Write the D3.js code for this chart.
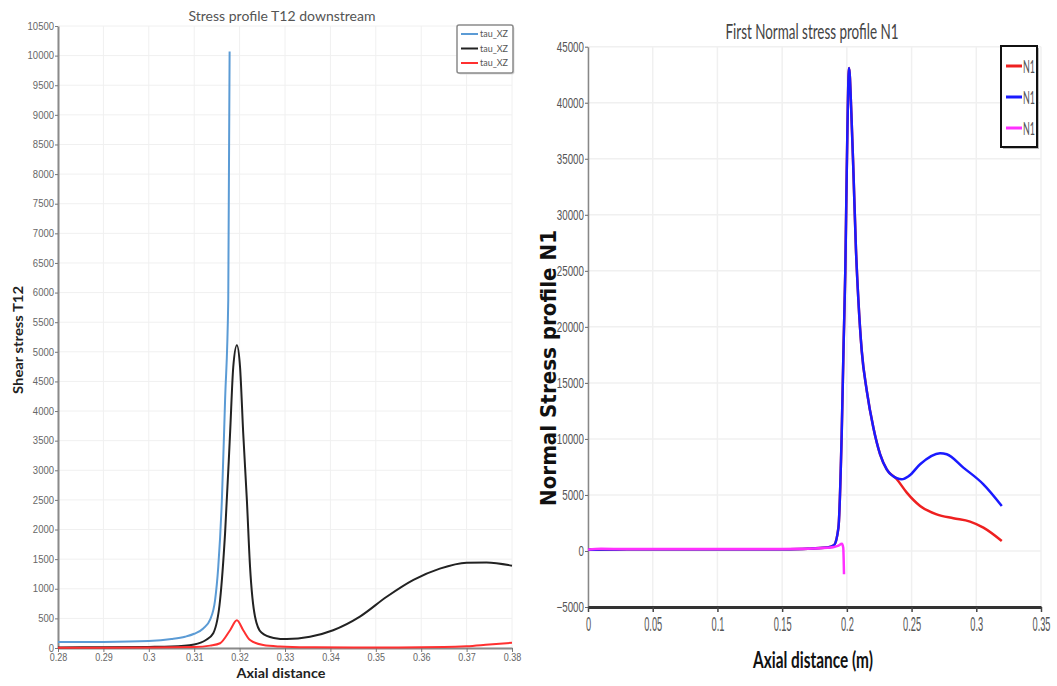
<!DOCTYPE html>
<html>
<head>
<meta charset="utf-8">
<script src="https://cdn.jsdelivr.net/npm/d3@7"></script>
<style>
  html, body { margin: 0; padding: 0; background: #fff; }
  svg { display: block; font-family: Lato, "Open Sans", sans-serif; }
</style>
</head>
<body>
<svg id="chart" width="1057" height="686"></svg>
<script>
// Left chart: shear stress T12 downstream
const t12Ticks = [0, 500, 1000, 1500, 2000, 2500, 3000, 3500, 4000, 4500, 5000, 5500, 6000, 6500, 7000, 7500, 8000, 8500, 9000, 9500, 10000, 10500];
const t12AxialTicks = [0.28, 0.29, 0.30, 0.31, 0.32, 0.33, 0.34, 0.35, 0.36, 0.37, 0.38];

const tauBlueX = [0.28, 0.29, 0.30, 0.305, 0.308, 0.31, 0.312, 0.3135, 0.3146, 0.3153, 0.3161, 0.3168, 0.3175, 0.3178];
const tauBlueY = [100, 103, 118, 150, 190, 240, 330, 480, 810, 1370, 2500, 4180, 5870, 10070];

const tauBlackX = [0.28, 0.29, 0.30, 0.305, 0.31, 0.3125, 0.3142, 0.3157, 0.3168, 0.3179, 0.3186, 0.3194, 0.3201, 0.3208, 0.3216, 0.3223, 0.3234, 0.3248, 0.3275, 0.3304, 0.3355, 0.3406, 0.3465, 0.3524, 0.3583, 0.3641, 0.3700, 0.3744, 0.3800];
const tauBlackY = [10, 12, 18, 25, 60, 130, 250, 810, 1935, 3620, 4740, 5110, 4740, 3620, 2500, 1370, 528, 260, 170, 150, 190, 300, 530, 865, 1150, 1340, 1440, 1445, 1390];

const tauRedX = [0.28, 0.30, 0.31, 0.3135, 0.3157, 0.3179, 0.3194, 0.3208, 0.3223, 0.3252, 0.3289, 0.335, 0.345, 0.355, 0.365, 0.370, 0.375, 0.38];
const tauRedY = [5, 8, 15, 40, 80, 300, 470, 300, 135, 50, 25, 12, 8, 8, 15, 30, 60, 88];

// Right chart: first normal stress N1
const n1Ticks = [-5000, 0, 5000, 10000, 15000, 20000, 25000, 30000, 35000, 40000, 45000];
const n1AxialTicks = [0, 0.05, 0.1, 0.15, 0.2, 0.25, 0.3, 0.35];

const n1RedX = [0, 0.01, 0.03, 0.05, 0.08, 0.1, 0.12, 0.15, 0.17, 0.185, 0.19, 0.1935, 0.196, 0.1975, 0.1988, 0.1999, 0.2017, 0.2035, 0.2051, 0.207, 0.2089, 0.2115, 0.2154, 0.2205, 0.2257, 0.2308, 0.2386, 0.2463, 0.2566, 0.2694, 0.2823, 0.2952, 0.3055, 0.3197];
const n1RedY = [100, 120, 150, 160, 150, 150, 150, 160, 200, 300, 500, 2080, 10400, 18500, 25000, 33750, 43100, 39000, 33750, 27000, 22400, 17860, 14290, 11000, 8630, 7290, 6400, 5210, 4020, 3270, 2920, 2620, 2080, 890];

const n1BlueX = [0, 0.01, 0.03, 0.05, 0.08, 0.1, 0.12, 0.15, 0.17, 0.185, 0.19, 0.1935, 0.196, 0.1975, 0.1988, 0.1999, 0.2017, 0.2035, 0.2051, 0.207, 0.2089, 0.2115, 0.2154, 0.2205, 0.2257, 0.2308, 0.2386, 0.2424, 0.248, 0.2566, 0.272, 0.2772, 0.29, 0.3055, 0.3197];
const n1BlueY = [100, 120, 150, 160, 150, 150, 150, 160, 200, 300, 500, 2080, 10400, 18500, 25000, 33750, 43100, 39000, 33750, 27000, 22400, 17860, 14290, 11000, 8630, 7290, 6500, 6400, 6700, 7740, 8720, 8630, 7440, 5950, 4020];

const n1MagentaX = [0, 0.01, 0.03, 0.05, 0.08, 0.1, 0.12, 0.15, 0.17, 0.185, 0.19, 0.193, 0.1962, 0.1972, 0.1978];
const n1MagentaY = [120, 200, 170, 180, 170, 170, 170, 180, 200, 280, 350, 450, 650, 300, -2080];

const leftLegend = [
  { label: 'tau_XZ', color: '#5b9bd5' },
  { label: 'tau_XZ', color: '#222222' },
  { label: 'tau_XZ', color: '#ff3030' }
];
const rightLegend = [
  { label: 'N1', color: '#ee2020' },
  { label: 'N1', color: '#1a1aff' },
  { label: 'N1', color: '#ff30ff' }
];

const svg = d3.select('#chart');

const squeeze = (sel, f) => sel.each(function () {
  const w = this.getComputedTextLength();
  d3.select(this).attr('textLength', w * f).attr('lengthAdjust', 'spacingAndGlyphs');
});
const fmt = d => String(+d.toFixed(2));
const zip = (xs, ys) => xs.map((x, i) => [x, ys[i]]);

// ---------- Left chart ----------
const lx = d3.scaleLinear().domain([0.28, 0.38]).range([58, 512]);
const ly = d3.scaleLinear().domain([0, 10500]).range([648, 26]);

const left = svg.append('g');

// grid
left.append('g').selectAll('line').data(t12Ticks).enter().append('line')
  .attr('x1', 58).attr('x2', 512)
  .attr('y1', d => ly(d)).attr('y2', d => ly(d))
  .attr('stroke', '#f0f0f0');
left.append('g').selectAll('line').data(t12AxialTicks).enter().append('line')
  .attr('x1', d => lx(d)).attr('x2', d => lx(d))
  .attr('y1', 26).attr('y2', 648)
  .attr('stroke', '#f0f0f0');

// axes
const lAxisY = left.append('g')
  .attr('transform', 'translate(58,0)')
  .call(d3.axisLeft(ly).tickValues(t12Ticks).tickFormat(d3.format('d')).tickSize(3).tickSizeOuter(0));
const lAxisX = left.append('g')
  .attr('transform', 'translate(0,648)')
  .call(d3.axisBottom(lx).tickValues(t12AxialTicks).tickFormat(fmt).tickSize(4).tickSizeOuter(0));
[lAxisY, lAxisX].forEach(a => {
  a.select('.domain').attr('stroke', '#8a8a8a').attr('stroke-width', 2);
  a.selectAll('.tick line').attr('stroke', '#777');
  a.selectAll('text').attr('fill', '#666').style('font-size', '10px');
});
lAxisY.selectAll('text').attr('x', -4).call(squeeze, 0.95);
lAxisX.selectAll('text').attr('y', 6).call(squeeze, 0.9);

// lines
const lLine = d3.line().x(d => lx(d[0])).y(d => ly(d[1])).curve(d3.curveMonotoneX);
[[tauBlueX, tauBlueY, leftLegend[0].color],
 [tauBlackX, tauBlackY, leftLegend[1].color],
 [tauRedX, tauRedY, leftLegend[2].color]].forEach(([xs, ys, c]) => {
  left.append('path')
    .datum(zip(xs, ys))
    .attr('fill', 'none')
    .attr('stroke', c)
    .attr('stroke-width', 2)
    .attr('d', lLine);
});

// titles
left.append('text')
  .attr('x', 282).attr('y', 21)
  .attr('text-anchor', 'middle')
  .attr('fill', '#555').style('font-size', '14px')
  .text('Stress profile T12 downstream')
  .attr('textLength', 187).attr('lengthAdjust', 'spacingAndGlyphs');
left.append('text')
  .attr('transform', 'translate(23,340) rotate(-90)')
  .attr('text-anchor', 'middle')
  .attr('fill', '#222').style('font-size', '13px').style('font-weight', 'bold')
  .text('Shear stress T12')
  .attr('textLength', 108).attr('lengthAdjust', 'spacingAndGlyphs');
left.append('text')
  .attr('x', 281).attr('y', 678)
  .attr('text-anchor', 'middle')
  .attr('fill', '#222').style('font-size', '14px').style('font-weight', 'bold')
  .text('Axial distance')
  .attr('textLength', 89).attr('lengthAdjust', 'spacingAndGlyphs');

// legend
const lLeg = left.append('g').attr('transform', 'translate(457,25)');
lLeg.append('rect').attr('x', 1.5).attr('y', 1.5).attr('width', 56).attr('height', 48)
  .attr('rx', 2).attr('fill', '#ddd');
lLeg.append('rect').attr('width', 56).attr('height', 48).attr('rx', 2)
  .attr('fill', '#fff').attr('stroke', '#8a8a8a').attr('stroke-width', 1.5);
leftLegend.forEach((d, i) => {
  const y = 9 + i * 14.5;
  lLeg.append('line').attr('x1', 4).attr('x2', 21).attr('y1', y).attr('y2', y)
    .attr('stroke', d.color).attr('stroke-width', 2);
  lLeg.append('text').attr('x', 23).attr('y', y + 3)
    .attr('fill', '#555').style('font-size', '9px').text(d.label)
    .attr('textLength', 28).attr('lengthAdjust', 'spacingAndGlyphs');
});

// ---------- Right chart ----------
const rx = d3.scaleLinear().domain([0, 0.35]).range([588, 1041]);
const ry = d3.scaleLinear().domain([-5000, 45000]).range([607, 46.7]);

const right = svg.append('g');

right.append('g').selectAll('line').data(n1Ticks).enter().append('line')
  .attr('x1', 588).attr('x2', 1041)
  .attr('y1', d => ry(d)).attr('y2', d => ry(d))
  .attr('stroke', '#f0f0f0').attr('stroke-width', 1.5);
right.append('g').selectAll('line').data(n1AxialTicks).enter().append('line')
  .attr('x1', d => rx(d)).attr('x2', d => rx(d))
  .attr('y1', 46.7).attr('y2', 607)
  .attr('stroke', '#f0f0f0').attr('stroke-width', 1.5);

const rAxisY = right.append('g')
  .attr('transform', 'translate(588,0)')
  .call(d3.axisLeft(ry).tickValues(n1Ticks).tickFormat(d3.format('d')).tickSize(3).tickSizeOuter(0));
rAxisY.select('.domain').attr('stroke', '#888').attr('stroke-width', 1.5);
rAxisY.selectAll('.tick line').attr('stroke', '#666');
rAxisY.selectAll('text').attr('fill', '#555').attr('x', -4).style('font-size', '14px').call(squeeze, 0.7);

const rAxisX = right.append('g')
  .attr('transform', 'translate(0,607)')
  .call(d3.axisBottom(rx).tickValues(n1AxialTicks).tickFormat(fmt).tickSize(5).tickSizeOuter(0));
rAxisX.select('.domain').attr('stroke', '#333').attr('stroke-width', 3);
rAxisX.selectAll('.tick line').attr('stroke', '#444').attr('stroke-width', 1.5);
rAxisX.selectAll('text').attr('fill', '#555').attr('y', 9).style('font-size', '21px').call(squeeze, 0.44);

const rLine = d3.line().x(d => rx(d[0])).y(d => ry(d[1])).curve(d3.curveMonotoneX);
[[n1RedX, n1RedY, rightLegend[0].color],
 [n1BlueX, n1BlueY, rightLegend[1].color],
 [n1MagentaX, n1MagentaY, rightLegend[2].color]].forEach(([xs, ys, c]) => {
  right.append('path')
    .datum(zip(xs, ys))
    .attr('fill', 'none')
    .attr('stroke', c)
    .attr('stroke-width', 2.5)
    .attr('d', rLine);
});

right.append('text')
  .attr('x', 812).attr('y', 39)
  .attr('text-anchor', 'middle')
  .attr('fill', '#444').style('font-size', '21px')
  .text('First Normal stress profile N1')
  .attr('textLength', 173).attr('lengthAdjust', 'spacingAndGlyphs');
right.append('text')
  .attr('transform', 'translate(556,368) rotate(-90)')
  .attr('text-anchor', 'middle')
  .attr('fill', '#111').style('font-size', '22px').style('font-weight', '900')
  .style('font-family', '"DejaVu Sans", sans-serif')
  .text('Normal Stress profile N1')
  .attr('textLength', 276).attr('lengthAdjust', 'spacingAndGlyphs');
right.append('text')
  .attr('x', 813).attr('y', 668)
  .attr('text-anchor', 'middle')
  .attr('fill', '#111').style('font-size', '23px').style('font-weight', 'bold')
  .text('Axial distance (m)')
  .attr('textLength', 120).attr('lengthAdjust', 'spacingAndGlyphs');

const rLeg = right.append('g').attr('transform', 'translate(1001,46)');
rLeg.append('rect').attr('x', 2).attr('y', 2).attr('width', 36).attr('height', 101).attr('fill', '#bbb');
rLeg.append('rect').attr('width', 36).attr('height', 101)
  .attr('fill', '#fff').attr('stroke', '#111').attr('stroke-width', 2);
rightLegend.forEach((d, i) => {
  const y = 20 + i * 31;
  rLeg.append('line').attr('x1', 5).attr('x2', 21).attr('y1', y).attr('y2', y)
    .attr('stroke', d.color).attr('stroke-width', 3);
  rLeg.append('text').attr('x', 22).attr('y', y + 7)
    .attr('fill', '#555').style('font-size', '18px').text(d.label)
    .attr('textLength', 12).attr('lengthAdjust', 'spacingAndGlyphs');
});
</script>
</body>
</html>
